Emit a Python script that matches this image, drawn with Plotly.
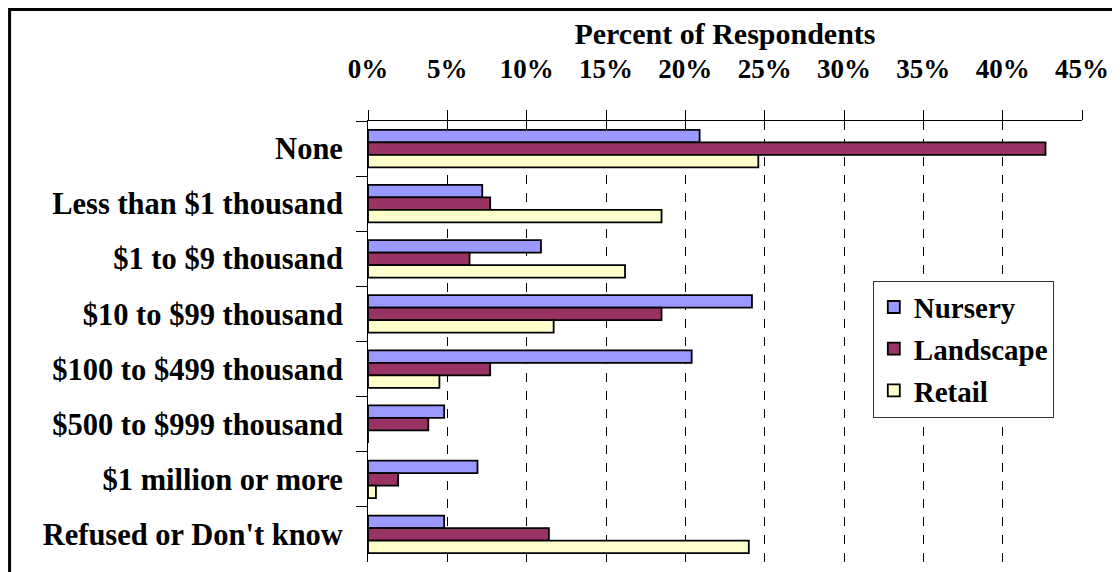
import plotly.graph_objects as go

categories = ["None", "Less than $1 thousand", "$1 to $9 thousand", "$10 to $99 thousand",
              "$100 to $499 thousand", "$500 to $999 thousand", "$1 million or more",
              "Refused or Don't know"]
nursery = [20.9, 7.2, 10.9, 24.2, 20.4, 4.8, 6.9, 4.8]
landscape = [42.7, 7.7, 6.4, 18.5, 7.7, 3.8, 1.9, 11.4]
retail = [24.6, 18.5, 16.2, 11.7, 4.5, 0.0, 0.5, 24.0]
x_ticks = [0, 5, 10, 15, 20, 25, 30, 35, 40, 45]
x_tick_labels = [f"{v}%" for v in x_ticks]

FONT = "Liberation Serif, Times New Roman, serif"

fig = go.Figure()
for name, vals, color, grp in [("Nursery", nursery, "#9999FF", "a"),
                               ("Landscape", landscape, "#993366", "b"),
                               ("Retail", retail, "#FFFFCC", "c")]:
    fig.add_trace(go.Bar(
        y=categories, x=vals, name=name, orientation="h",
        marker=dict(color=color, line=dict(color="black", width=1.8)),
        legendgroup=grp,
    ))

fig.update_layout(
    width=1112, height=564,
    margin=dict(l=360, r=38, t=113, b=10),
    paper_bgcolor="white", plot_bgcolor="white",
    barmode="group", bargap=0.32, bargroupgap=0,
    font=dict(family=FONT, size=28, color="black", weight="bold"),
    showlegend=True,
    legend=dict(x=0.707, y=0.638, xanchor="left", yanchor="top",
                bgcolor="white", bordercolor="#333333", borderwidth=1,
                font=dict(family=FONT, size=29, color="black", weight="bold"),
                tracegroupgap=1, itemwidth=30),
    xaxis=dict(
        side="top", range=[0, 45], tickvals=x_ticks, ticktext=x_tick_labels,
        showline=True, linecolor="black", linewidth=1,
        ticks="outside", ticklen=10, tickcolor="black", tickwidth=1,
        showgrid=True, gridcolor="black", gridwidth=1, griddash="dash",
        zeroline=False, ticklabelstandoff=21, automargin=False,
        tickfont=dict(family=FONT, size=27, color="black", weight="bold"),
        title=dict(text="Percent of Respondents", standoff=0,
                   font=dict(family=FONT, size=30, color="black", weight="bold")),
    ),
    yaxis=dict(
        type="category", autorange="reversed",
        showline=True, linecolor="black", linewidth=1,
        ticks="outside", ticklen=11, tickcolor="black", tickson="boundaries",
        showgrid=False, ticklabelstandoff=18, automargin=False,
        tickfont=dict(family=FONT, size=30.5, color="black", weight="bold"),
    ),
    shapes=[dict(type="rect", xref="paper", yref="paper",
                 x0=-0.502, x1=1.1, y0=-0.1, y1=1.2528,
                 line=dict(color="black", width=3), fillcolor="rgba(0,0,0,0)",
                 layer="below")],
)

fig.write_html("out.html")
